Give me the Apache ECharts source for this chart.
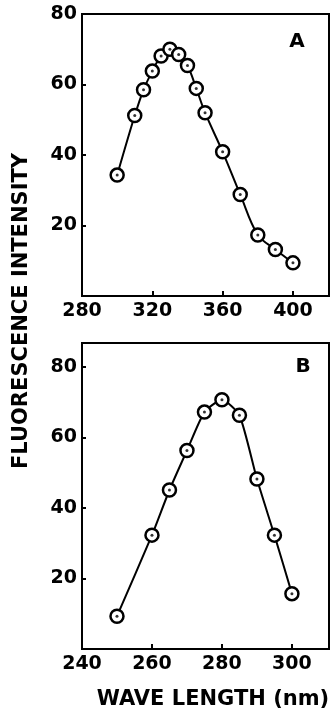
<!DOCTYPE html>
<html>
<head>
<meta charset="utf-8">
<script src="https://cdn.jsdelivr.net/npm/echarts@6/dist/echarts.min.js"></script>
<style>
  html, body { margin: 0; padding: 0; background: #fff; }
  #chart { width: 330px; height: 708px; }
</style>
</head>
<body>
<div id="chart"></div>
<script>
// panel A: emission spectrum
const waveA = [300, 310, 315, 320, 325, 330, 335, 340, 345, 350, 360, 370, 380, 390, 400];
const intensityA = [34.3, 51.2, 58.5, 63.8, 68.1, 70.0, 68.5, 65.4, 58.9, 52.0, 40.9, 28.8, 17.3, 13.2, 9.4];
// panel B: excitation spectrum
const waveB = [250, 260, 265, 270, 275, 280, 285, 290, 295, 300];
const intensityB = [9.3, 32.3, 45.1, 56.3, 67.2, 70.7, 66.3, 48.2, 32.3, 15.7];
// tick labels
const xTicksA = [280, 320, 360, 400];
const xTicksB = [240, 260, 280, 300];
const yTicks = [20, 40, 60, 80];

const font = "DejaVu Sans";
const chartInstance = echarts.init(document.getElementById("chart"));

function pairs(xs, ys) {
  return xs.map((x, i) => [x, ys[i]]);
}

function xAxisFor(idx, min, max, ticks) {
  return {
    type: "value",
    gridIndex: idx,
    min: min,
    max: max,
    splitLine: { show: false },
    axisLine: { show: true, lineStyle: { color: "#000", width: 2 } },
    axisTick: { inside: true, length: 5, lineStyle: { color: "#000", width: 2 }, customValues: ticks },
    axisLabel: {
      customValues: ticks,
      color: "#000", fontFamily: font, fontWeight: "bold", fontSize: 19, margin: 6,
    },
  };
}

function yAxisFor(idx, max) {
  return {
    type: "value",
    gridIndex: idx,
    min: 0,
    max: max,
    splitLine: { show: false },
    axisLine: { show: true, lineStyle: { color: "#000", width: 2 } },
    axisTick: { inside: true, length: 4, lineStyle: { color: "#000", width: 2 }, customValues: yTicks },
    axisLabel: {
      customValues: yTicks,
      color: "#000", fontFamily: font, fontWeight: "bold", fontSize: 19, margin: 5,
    },
  };
}

function curve(idx, data, smooth) {
  return [
    {
      type: "line",
      xAxisIndex: idx,
      yAxisIndex: idx,
      data: data,
      smooth: smooth,
      symbol: "circle",
      symbolSize: 13,
      lineStyle: { color: "#000", width: 2 },
      itemStyle: { color: "#fff", borderColor: "#000", borderWidth: 2.5 },
      z: 2,
    },
    {
      // centre dot of each marker
      type: "scatter",
      xAxisIndex: idx,
      yAxisIndex: idx,
      data: data,
      symbolSize: 3,
      itemStyle: { color: "#000" },
      z: 3,
    },
  ];
}

const option = {
  backgroundColor: "#fff",
  animation: false,
  grid: [
    { left: 82, top: 14, width: 247, height: 282, show: true, borderColor: "#000", borderWidth: 2 },
    { left: 82, top: 343, width: 247, height: 306, show: true, borderColor: "#000", borderWidth: 2 },
  ],
  xAxis: [xAxisFor(0, 280, 420.5, xTicksA), xAxisFor(1, 240, 310.6, xTicksB)],
  yAxis: [yAxisFor(0, 80), yAxisFor(1, 86.8)],
  series: [].concat(curve(0, pairs(waveA, intensityA), 0.35), curve(1, pairs(waveB, intensityB), 0.2)),
  graphic: [
    {
      type: "text", x: 297, y: 42,
      style: { text: "A", font: "bold 20px DejaVu Sans", fill: "#000", align: "center", verticalAlign: "middle" },
    },
    {
      type: "text", x: 303, y: 367,
      style: { text: "B", font: "bold 20px DejaVu Sans", fill: "#000", align: "center", verticalAlign: "middle" },
    },
    {
      type: "text", x: 22, y: 311, rotation: Math.PI / 2,
      style: { text: "FLUORESCENCE INTENSITY", font: "bold 21px DejaVu Sans", fill: "#000", align: "center", verticalAlign: "middle" },
    },
    {
      type: "text", x: 213, y: 700,
      style: { text: "WAVE LENGTH (nm)", font: "bold 21px DejaVu Sans", fill: "#000", align: "center", verticalAlign: "middle" },
    },
  ],
};

chartInstance.setOption(option);
</script>
</body>
</html>
